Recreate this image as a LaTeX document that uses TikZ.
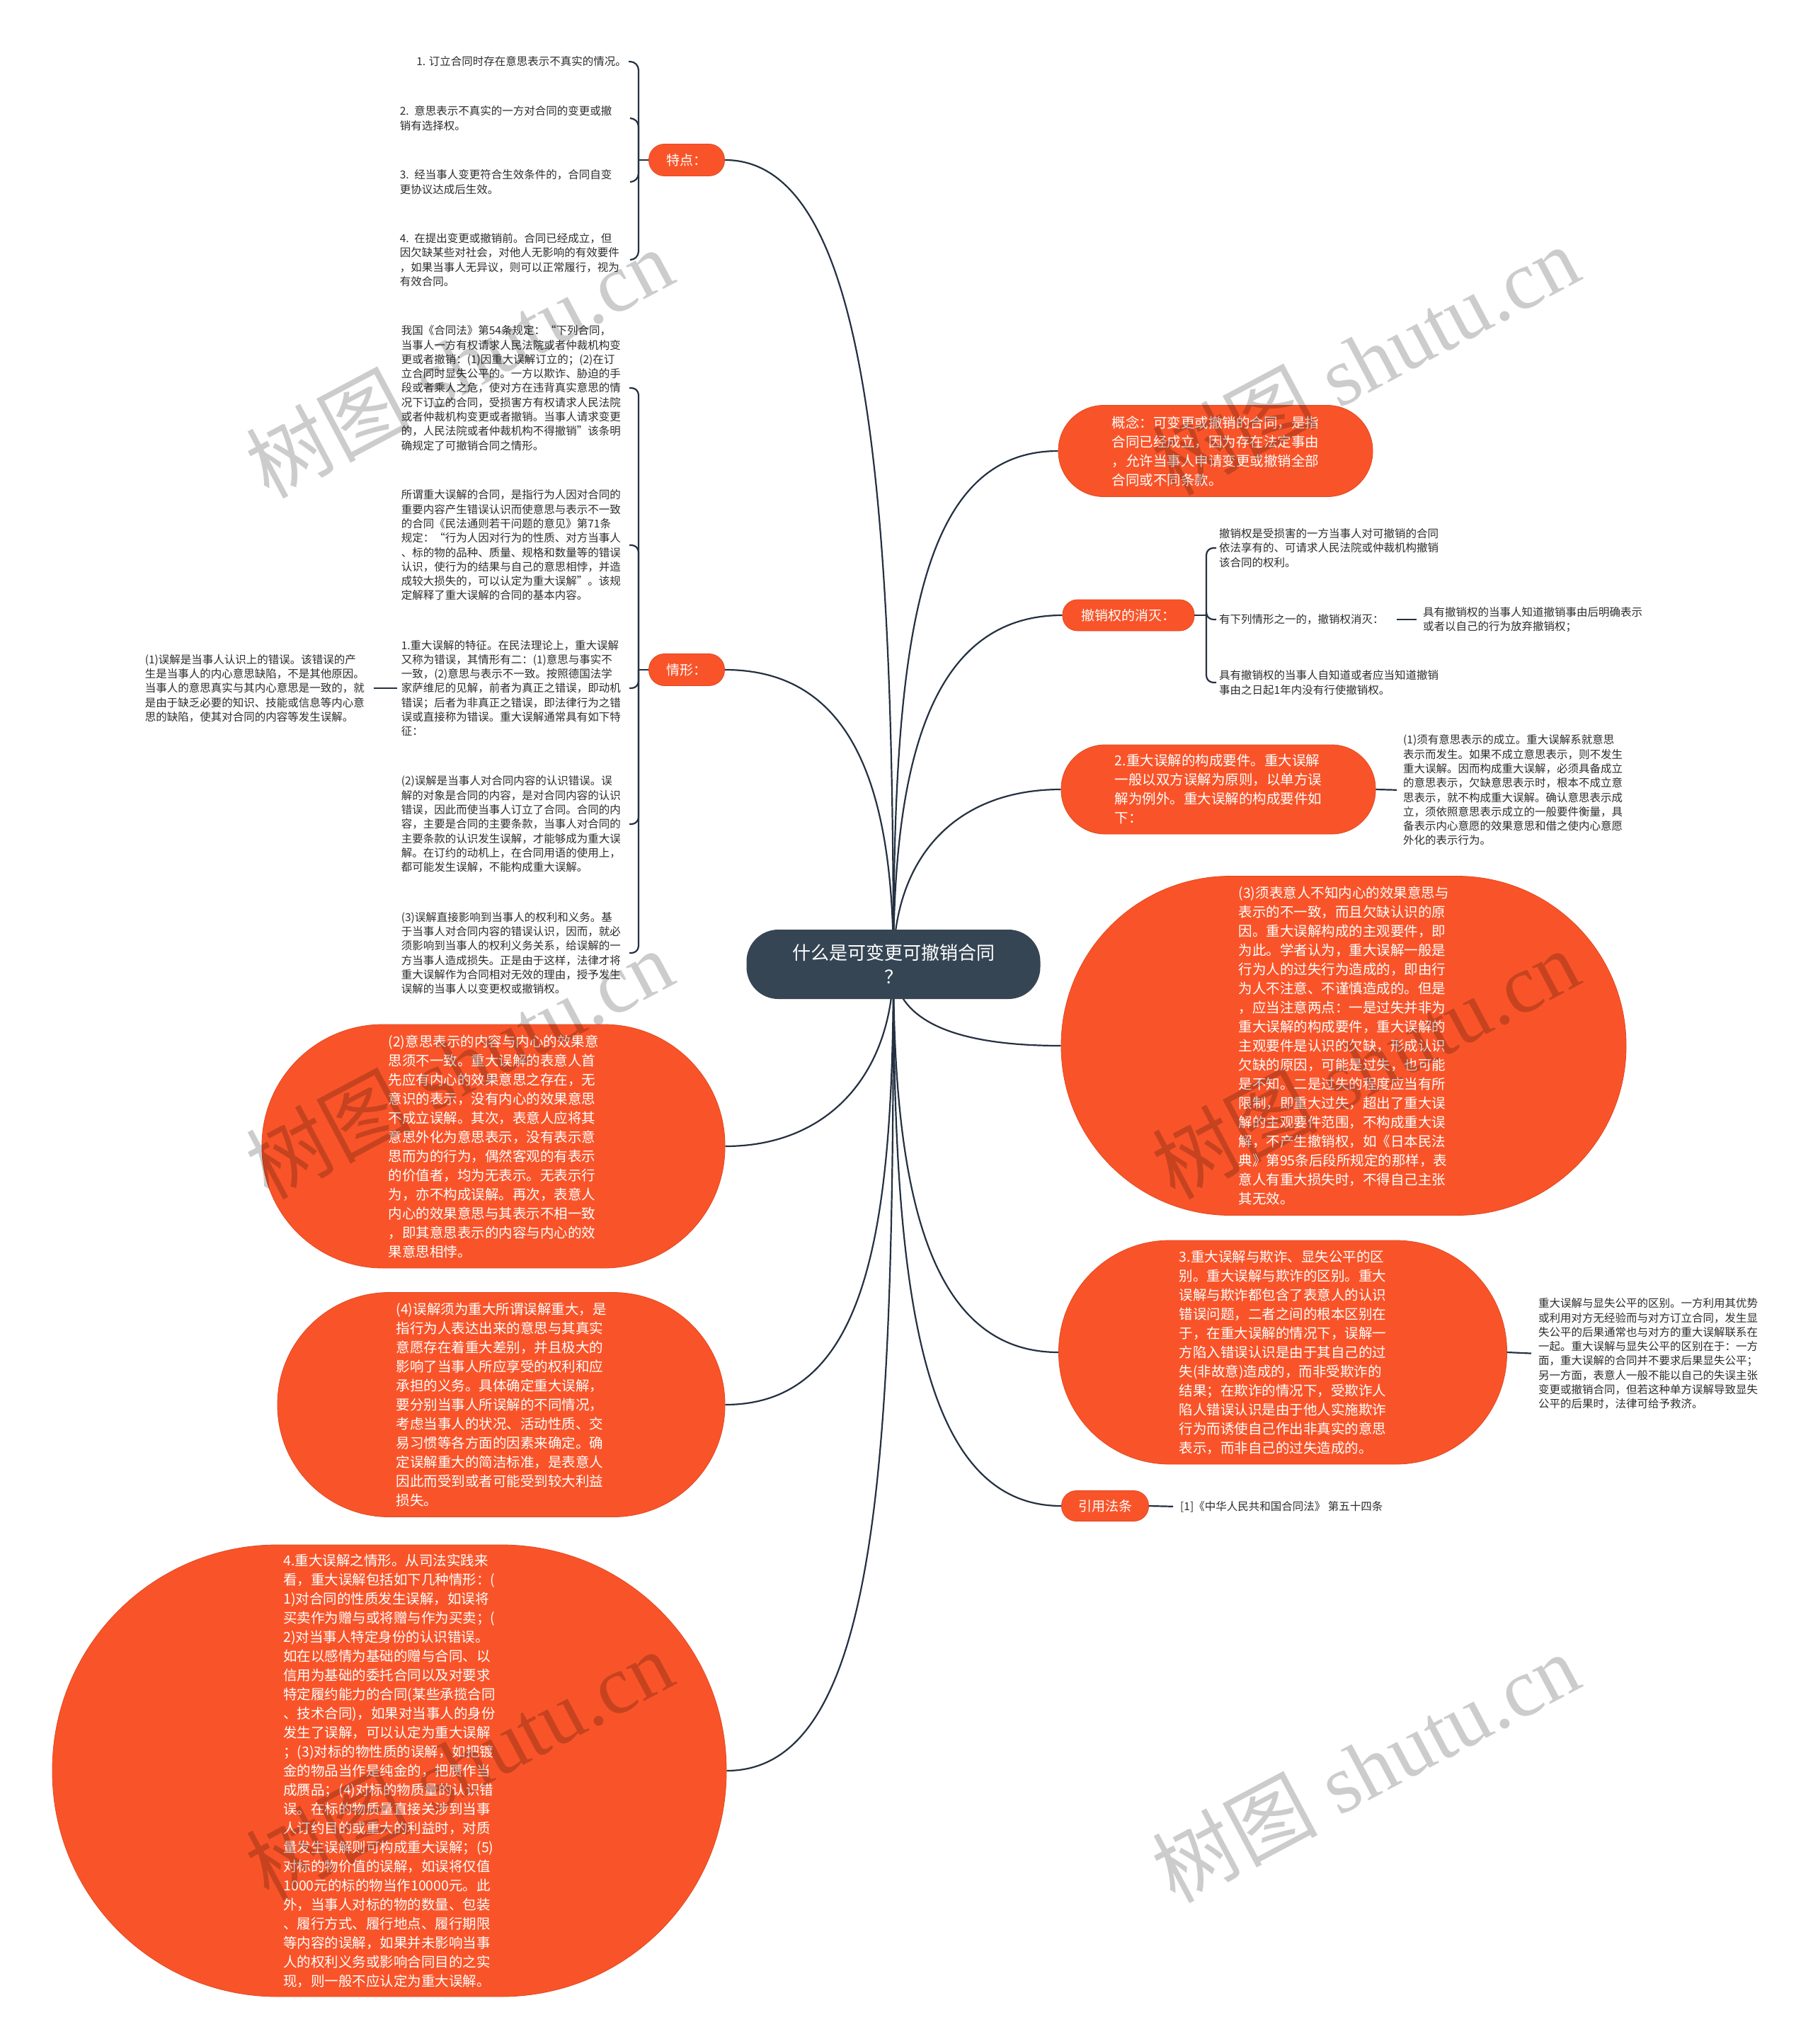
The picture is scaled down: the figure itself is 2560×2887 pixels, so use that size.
\documentclass[tikz,border=0pt]{standalone}
\usepackage{fontspec}
\newfontfamily\cjk{Noto Sans CJK SC}
\newfontfamily\wmserif{Liberation Serif}
\pgfdeclarelayer{bg}
\pgfsetlayers{bg,main}
\definecolor{orng}{RGB}{249,84,41}
\definecolor{orngline}{RGB}{226,70,32}
\definecolor{rootc}{RGB}{54,69,83}
\definecolor{linec}{RGB}{36,49,66}
\definecolor{txtc}{RGB}{45,45,45}
\tikzset{
  pill/.style={fill=orng, draw=orngline, line width=0.8pt, text=white, font=\cjk\fontsize{19}{24}\selectfont, inner sep=0pt, align=center},
  blob/.style={fill=orng, draw=orngline, line width=0.8pt, text=white, font=\cjk\fontsize{19.5}{27}\selectfont, inner sep=0pt, align=left},
  small/.style={text=txtc, font=\cjk\fontsize{15.5}{20.3}\selectfont, inner sep=0pt, align=left},
  conn/.style={draw=linec, line width=2.2pt},
  wm/.style={text=black, opacity=0.2, font=\wmserif\fontsize{117}{117}\selectfont, inner sep=0pt, rotate=28}
}
\begin{document}
\begin{tikzpicture}[x=1pt,y=-1pt]
\useasboundingbox (0,0) rectangle (2560,2887);
\begin{pgfonlayer}{bg}
\fill[white] (0,0) rectangle (2560,2887);
\end{pgfonlayer}

% root
\node[fill=rootc, rounded corners=45pt, minimum width=415pt, minimum height=98pt, text=white, font=\cjk\fontsize{26}{34}\selectfont, align=center, inner sep=0pt] (root) at (1262,1362) {什么是可变更可撤销合同\\？};

% ===== left: 特点
\node[pill, minimum width=107pt, minimum height=45pt, rounded corners=22pt] (td) at (970,226) {特点：};
\node[small, anchor=east] (t1) at (885,87) {1. 订立合同时存在意思表示不真实的情况。};
\node[small, anchor=east, text width=322pt] (t2) at (887,167) {2. 意思表示不真实的一方对合同的变更或撤\\销有选择权。};
\node[small, anchor=east, text width=322pt] (t3) at (887,257) {3. 经当事人变更符合生效条件的，合同自变\\更协议达成后生效。};
\node[small, anchor=east, text width=322pt] (t4) at (887,367) {4. 在提出变更或撤销前。合同已经成立，但\\因欠缺某些对社会，对他人无影响的有效要件\\，如果当事人无异议，则可以正常履行，视为\\有效合同。};
\coordinate (tj) at (902,226);

% ===== left: 情形
\node[pill, minimum width=107pt, minimum height=45pt, rounded corners=22pt] (qx) at (970,946) {情形：};
\node[small, anchor=east, text width=322pt] (qa) at (889,548) {我国《合同法》第54条规定：“下列合同，\\当事人一方有权请求人民法院或者仲裁机构变\\更或者撤销：(1)因重大误解订立的；(2)在订\\立合同时显失公平的。一方以欺诈、胁迫的手\\段或者乘人之危，使对方在违背真实意思的情\\况下订立的合同，受损害方有权请求人民法院\\或者仲裁机构变更或者撤销。当事人请求变更\\的，人民法院或者仲裁机构不得撤销”该条明\\确规定了可撤销合同之情形。};
\node[small, anchor=east, text width=322pt] (qb) at (889,770) {所谓重大误解的合同，是指行为人因对合同的\\重要内容产生错误认识而使意思与表示不一致\\的合同《民法通则若干问题的意见》第71条\\规定：“行为人因对行为的性质、对方当事人\\、标的物的品种、质量、规格和数量等的错误\\认识，使行为的结果与自己的意思相悖，并造\\成较大损失的，可以认定为重大误解”。该规\\定解释了重大误解的合同的基本内容。};
\node[small, anchor=east, text width=322pt] (qc) at (889,972) {1.重大误解的特征。在民法理论上，重大误解\\又称为错误，其情形有二：(1)意思与事实不\\一致，(2)意思与表示不一致。按照德国法学\\家萨维尼的见解，前者为真正之错误，即动机\\错误；后者为非真正之错误，即法律行为之错\\误或直接称为错误。重大误解通常具有如下特\\征：};
\node[small, anchor=east, text width=315pt] (qc1) at (520,972) {(1)误解是当事人认识上的错误。该错误的产\\生是当事人的内心意思缺陷，不是其他原因。\\当事人的意思真实与其内心意思是一致的，就\\是由于缺乏必要的知识、技能或信息等内心意\\思的缺陷，使其对合同的内容等发生误解。};
\node[small, anchor=east, text width=322pt] (qd) at (889,1164) {(2)误解是当事人对合同内容的认识错误。误\\解的对象是合同的内容，是对合同内容的认识\\错误，因此而使当事人订立了合同。合同的内\\容，主要是合同的主要条款，当事人对合同的\\主要条款的认识发生误解，才能够成为重大误\\解。在订约的动机上，在合同用语的使用上，\\都可能发生误解，不能构成重大误解。};
\node[small, anchor=east, text width=322pt] (qe) at (889,1346) {(3)误解直接影响到当事人的权利和义务。基\\于当事人对合同内容的错误认识，因而，就必\\须影响到当事人的权利义务关系，给误解的一\\方当事人造成损失。正是由于这样，法律才将\\重大误解作为合同相对无效的理由，授予发生\\误解的当事人以变更权或撤销权。};
\coordinate (qj) at (902,946);

% ===== left blobs
\node[blob, minimum width=654pt, minimum height=344pt, rounded corners=171pt] (yb) at (697,1619) {(2)意思表示的内容与内心的效果意\\思须不一致。重大误解的表意人首\\先应有内心的效果意思之存在，无\\意识的表示，没有内心的效果意思\\不成立误解。其次，表意人应将其\\意思外化为意思表示，没有表示意\\思而为的行为，偶然客观的有表示\\的价值者，均为无表示。无表示行\\为，亦不构成误解。再次，表意人\\内心的效果意思与其表示不相一致\\，即其意思表示的内容与内心的效\\果意思相悖。};
\node[blob, minimum width=632pt, minimum height=317pt, rounded corners=158pt] (wj) at (708,1984) {(4)误解须为重大所谓误解重大，是\\指行为人表达出来的意思与其真实\\意愿存在着重大差别，并且极大的\\影响了当事人所应享受的权利和应\\承担的义务。具体确定重大误解，\\要分别当事人所误解的不同情况，\\考虑当事人的状况、活动性质、交\\易习惯等各方面的因素来确定。确\\定误解重大的简洁标准，是表意人\\因此而受到或者可能受到较大利益\\损失。};
\node[blob, minimum width=952pt, minimum height=638pt, rounded corners=318pt] (qxb) at (550,2501) {4.重大误解之情形。从司法实践来\\看，重大误解包括如下几种情形：(\\1)对合同的性质发生误解，如误将\\买卖作为赠与或将赠与作为买卖；(\\2)对当事人特定身份的认识错误。\\如在以感情为基础的赠与合同、以\\信用为基础的委托合同以及对要求\\特定履约能力的合同(某些承揽合同\\、技术合同)，如果对当事人的身份\\发生了误解，可以认定为重大误解\\；(3)对标的物性质的误解，如把镀\\金的物品当作是纯金的，把赝作当\\成赝品；(4)对标的物质量的认识错\\误。在标的物质量直接关涉到当事\\人订约目的或重大的利益时，对质\\量发生误解则可构成重大误解；(5)\\对标的物价值的误解，如误将仅值\\1000元的标的物当作10000元。此\\外，当事人对标的物的数量、包装\\、履行方式、履行地点、履行期限\\等内容的误解，如果并未影响当事\\人的权利义务或影响合同目的之实\\现，则一般不应认定为重大误解。};

% ===== right
\node[blob, minimum width=444pt, minimum height=129pt, rounded corners=64pt] (gn) at (1717,637) {概念：可变更或撤销的合同，是指\\合同已经成立，因为存在法定事由\\，允许当事人申请变更或撤销全部\\合同或不同条款。};

\node[pill, minimum width=186pt, minimum height=44pt, rounded corners=21pt] (cx) at (1594,869) {撤销权的消灭：};
\node[small, anchor=west] (r1) at (1722,774) {撤销权是受损害的一方当事人对可撤销的合同\\依法享有的、可请求人民法院或仲裁机构撤销\\该合同的权利。};
\node[small, anchor=west] (r2) at (1722,875) {有下列情形之一的，撤销权消灭：};
\node[small, anchor=west] (r2a) at (2010,875) {具有撤销权的当事人知道撤销事由后明确表示\\或者以自己的行为放弃撤销权；};
\node[small, anchor=west] (r3) at (1722,964) {具有撤销权的当事人自知道或者应当知道撤销\\事由之日起1年内没有行使撤销权。};
\coordinate (cj) at (1704,869);

\node[blob, minimum width=444pt, minimum height=126pt, rounded corners=62pt] (gc) at (1721,1115) {2.重大误解的构成要件。重大误解\\一般以双方误解为原则，以单方误\\解为例外。重大误解的构成要件如\\下：};
\node[small, anchor=west] (gc1) at (1982,1116) {(1)须有意思表示的成立。重大误解系就意思\\表示而发生。如果不成立意思表示，则不发生\\重大误解。因而构成重大误解，必须具备成立\\的意思表示，欠缺意思表示时，根本不成立意\\思表示，就不构成重大误解。确认意思表示成\\立，须依照意思表示成立的一般要件衡量，具\\备表示内心意愿的效果意思和借之使内心意愿\\外化的表示行为。};

\node[blob, minimum width=798pt, minimum height=479pt, rounded corners=239pt] (xb) at (1898,1477) {(3)须表意人不知内心的效果意思与\\表示的不一致，而且欠缺认识的原\\因。重大误解构成的主观要件，即\\为此。学者认为，重大误解一般是\\行为人的过失行为造成的，即由行\\为人不注意、不谨慎造成的。但是\\，应当注意两点：一是过失并非为\\重大误解的构成要件，重大误解的\\主观要件是认识的欠缺，形成认识\\欠缺的原因，可能是过失，也可能\\是不知。二是过失的程度应当有所\\限制，即重大过失，超出了重大误\\解的主观要件范围，不构成重大误\\解，不产生撤销权，如《日本民法\\典》第95条后段所规定的那样，表\\意人有重大损失时，不得自己主张\\其无效。};

\node[blob, minimum width=633pt, minimum height=316pt, rounded corners=157pt] (qz) at (1812,1910) {3.重大误解与欺诈、显失公平的区\\别。重大误解与欺诈的区别。重大\\误解与欺诈都包含了表意人的认识\\错误问题，二者之间的根本区别在\\于，在重大误解的情况下，误解一\\方陷入错误认识是由于其自己的过\\失(非故意)造成的，而非受欺诈的\\结果；在欺诈的情况下，受欺诈人\\陷人错误认识是由于他人实施欺诈\\行为而诱使自己作出非真实的意思\\表示，而非自己的过失造成的。};
\node[small, anchor=west] (qz1) at (2173,1912) {重大误解与显失公平的区别。一方利用其优势\\或利用对方无经验而与对方订立合同，发生显\\失公平的后果通常也与对方的重大误解联系在\\一起。重大误解与显失公平的区别在于：一方\\面，重大误解的合同并不要求后果显失公平；\\另一方面，表意人一般不能以自己的失误主张\\变更或撤销合同，但若这种单方误解导致显失\\公平的后果时，法律可给予救济。};

\node[pill, minimum width=123pt, minimum height=43pt, rounded corners=21pt] (yy) at (1561,2127) {引用法条};
\node[small, anchor=west] (yy1) at (1667,2128) {[1]《中华人民共和国合同法》 第五十四条};

% ===== connectors
\begin{pgfonlayer}{bg}
\draw[conn] (root.center) .. controls +(0,-680) and +(200,0) .. (td.east);
\draw[conn] (root.center) .. controls +(0,-250) and +(180,0) .. (qx.east);
\draw[conn] (root.center) .. controls +(0,150) and +(150,0) .. (yb.east);
\draw[conn] (root.center) .. controls +(0,380) and +(200,0) .. (wj.east);
\draw[conn] (root.center) .. controls +(0,680) and +(220,0) .. (qxb.east);
\draw[conn] (root.center) .. controls +(0,-450) and +(-200,0) .. (gn.west);
\draw[conn] (root.center) .. controls +(0,-300) and +(-180,0) .. (cx.west);
\draw[conn] (root.center) .. controls +(0,-150) and +(-150,0) .. (gc.west);
\draw[conn] (root.center) .. controls +(0,80) and +(-150,0) .. (xb.west);
\draw[conn] (root.center) .. controls +(0,330) and +(-180,0) .. (qz.west);
\draw[conn] (root.center) .. controls +(0,460) and +(-200,0) .. (yy.west);
\end{pgfonlayer}

\draw[conn] (td.west) -- (tj);
\foreach \c in {t1,t2,t3,t4} \draw[conn, rounded corners=12pt] (tj) |- ([xshift=3pt]\c.east);
\draw[conn] (qx.west) -- (qj);
\foreach \c in {qa,qb,qc,qd,qe} \draw[conn, rounded corners=10pt] (qj) |- (\c.east);
\draw[conn, shorten <=8pt, shorten >=6pt] (qc1.east) -- (qc.west);
\draw[conn] (cx.east) -- (cj);
\foreach \c in {r1,r2,r3} \draw[conn, rounded corners=10pt] (cj) |- ([xshift=-4pt]\c.west);
\draw[conn, shorten <=18pt, shorten >=9pt] (r2.east) -- (r2a.west);
\draw[conn, shorten >=9pt] (gc.east) -- (gc1.west);
\draw[conn, shorten >=10pt] (qz.east) -- (qz1.west);
\draw[conn, shorten >=10pt] (yy.east) -- (yy1.west);

% ===== watermarks
\node[wm] (w1) at (648,512) {{\cjk 树图} shutu.cn};
\node[wm] (w2) at (1928,508) {{\cjk 树图} shutu.cn};
\node[wm] (w3) at (648,1502) {{\cjk 树图} shutu.cn};
\node[wm] (w4) at (1928,1502) {{\cjk 树图} shutu.cn};
\node[wm] (w5) at (648,2492) {{\cjk 树图} shutu.cn};
\node[wm] (w6) at (1928,2496) {{\cjk 树图} shutu.cn};
\end{tikzpicture}
\end{document}
